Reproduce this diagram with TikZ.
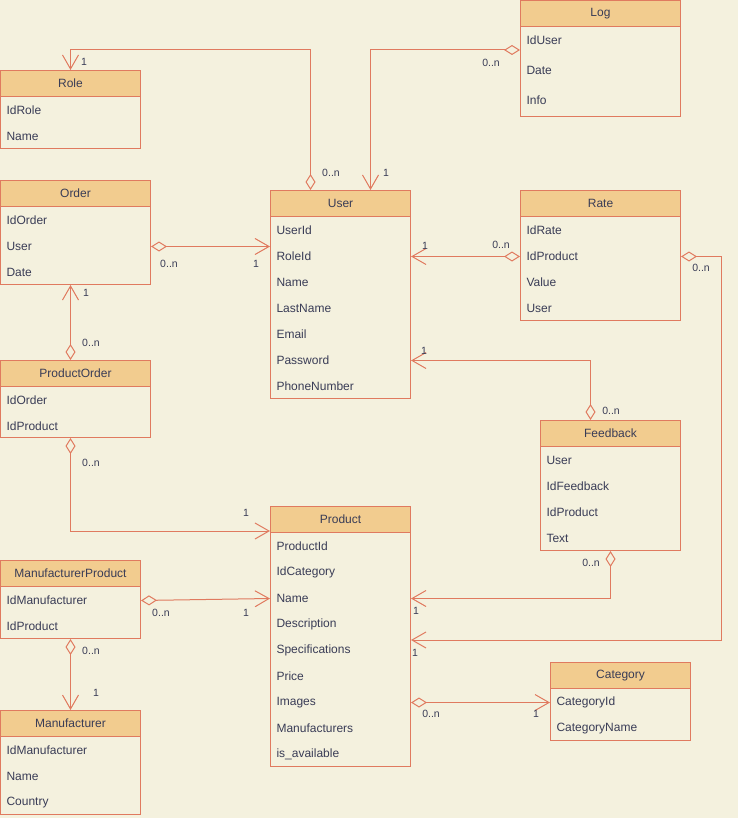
\documentclass[tikz,border=0pt]{standalone}
\usepackage{fontspec}
\setmainfont{Liberation Sans}
\usetikzlibrary{arrows.meta,positioning}
\definecolor{bgc}{HTML}{F4F1DE}
\definecolor{head}{HTML}{F2CC8F}
\definecolor{edge}{HTML}{E07A5F}
\definecolor{ink}{HTML}{393C56}
\tikzset{
  hdr/.style={draw=edge, fill=head, text=ink, anchor=north west, minimum height=26, inner sep=0pt},
  bodybox/.style={draw=edge, anchor=north west, inner sep=0pt},
  fld/.style={text=ink, anchor=west, inner sep=0pt},
  card/.style={text=ink, font=\fontsize{10.5}{12}\selectfont, inner sep=0pt},
  rel/.style={draw=edge, {Diamond[open,length=16pt,width=10pt]}-{Straight Barb[length=14pt,width=16pt]}}
}
\newcommand{\entity}[8][26]{%
  \node[hdr, minimum width=#5] (#2) at (#3,#4) {#7};
  \node[bodybox, minimum width=#5, minimum height=#6-26] (#2b) at (#3,#4+26) {};
  \foreach \f [count=\i] in {#8} {\node[fld] (#2-\i) at ({#3+6},{#4+40.5+(\i-1)*#1}) {\f};}
}

\begin{document}
\begin{tikzpicture}[x=1pt, y=-1pt, font=\fontsize{12}{14}\selectfont, line width=1pt]
\useasboundingbox (0,0) rectangle (738,818);
\fill[bgc] (0,0) rectangle (738,818);

\entity[30]{log}{520}{0}{160}{116}{Log}{IdUser,Date,Info}
\entity{role}{0}{70}{140}{78}{Role}{IdRole,Name}
\entity{order}{0}{180}{150}{104}{Order}{IdOrder,User,Date}
\entity{user}{270}{190}{140}{208}{User}{UserId,RoleId,Name,LastName,Email,Password,PhoneNumber}
\entity{rate}{520}{190}{160}{130}{Rate}{IdRate,IdProduct,Value,User}
\entity{po}{0}{360}{150}{77}{ProductOrder}{IdOrder,IdProduct}
\entity{fb}{540}{420}{140}{130}{Feedback}{User,IdFeedback,IdProduct,Text}
\entity{product}{270}{506}{140}{260}{Product}{ProductId,IdCategory,Name,Description,Specifications,Price,Images,Manufacturers,is\_available}
\entity{mp}{0}{560}{140}{78}{ManufacturerProduct}{IdManufacturer,IdProduct}
\entity{man}{0}{710}{140}{104}{Manufacturer}{IdManufacturer,Name,Country}
\entity{cat}{550}{662}{140}{78}{Category}{CategoryId,CategoryName}

\draw[rel] ([xshift=-30pt]user.north) -- ++(0,-140) -| (role.north);
\draw[rel] ([yshift=-24pt]logb.north west) -| ([xshift=30pt]user.north);
\draw[rel] (orderb.east |- order-2) -- (userb.west |- order-2);
\draw[rel] ([xshift=-5pt]po.north) -- ([xshift=-5pt]orderb.south);
\draw[rel] (rateb.west |- rate-2) -- (userb.east |- rate-2);
\draw[rel] ([xshift=-20pt]fb.north) |- (userb.east |- user-6);
\draw[rel] ([xshift=-5pt]pob.south) |- ([yshift=2pt]product.south west);
\draw[rel] (mpb.east |- mp-1) -- (productb.west |- product-3);
\draw[rel] (mpb.south) -- (man.north);
\draw[rel] (fbb.south) |- (productb.east |- product-3);
\draw[rel] (rateb.east |- rate-2) -- ++(40,0) |- ([yshift=-108pt]productb.north east);
\draw[rel] (productb.east |- product-7) -- (catb.west |- product-7);

\node[card] (c-role) at (84,62) {1};
\node[card] (c-urole) at (331,173) {0..n};
\node[card] (c-ulog) at (386,173) {1};
\node[card] (c-log) at (491,63) {0..n};
\node[card] (c-order) at (169,264) {0..n};
\node[card] (c-uorder) at (256,264) {1};
\node[card] (c-opo) at (86,293) {1};
\node[card] (c-po) at (91,343) {0..n};
\node[card] (c-urate) at (425,246) {1};
\node[card] (c-rate) at (501,245) {0..n};
\node[card] (c-rate2) at (701,268) {0..n};
\node[card] (c-ufb) at (424,351) {1};
\node[card] (c-fb) at (611,411) {0..n};
\node[card] (c-po2) at (91,463) {0..n};
\node[card] (c-ppo) at (246,513) {1};
\node[card] (c-mp) at (161,613) {0..n};
\node[card] (c-pmp) at (246,613) {1};
\node[card] (c-mp2) at (91,651) {0..n};
\node[card] (c-man) at (96,693) {1};
\node[card] (c-fb2) at (591,563) {0..n};
\node[card] (c-pfb) at (416,611) {1};
\node[card] (c-prate) at (415,653) {1};
\node[card] (c-pcat) at (431,714) {0..n};
\node[card] (c-cat) at (536,714) {1};
\end{tikzpicture}
\end{document}
